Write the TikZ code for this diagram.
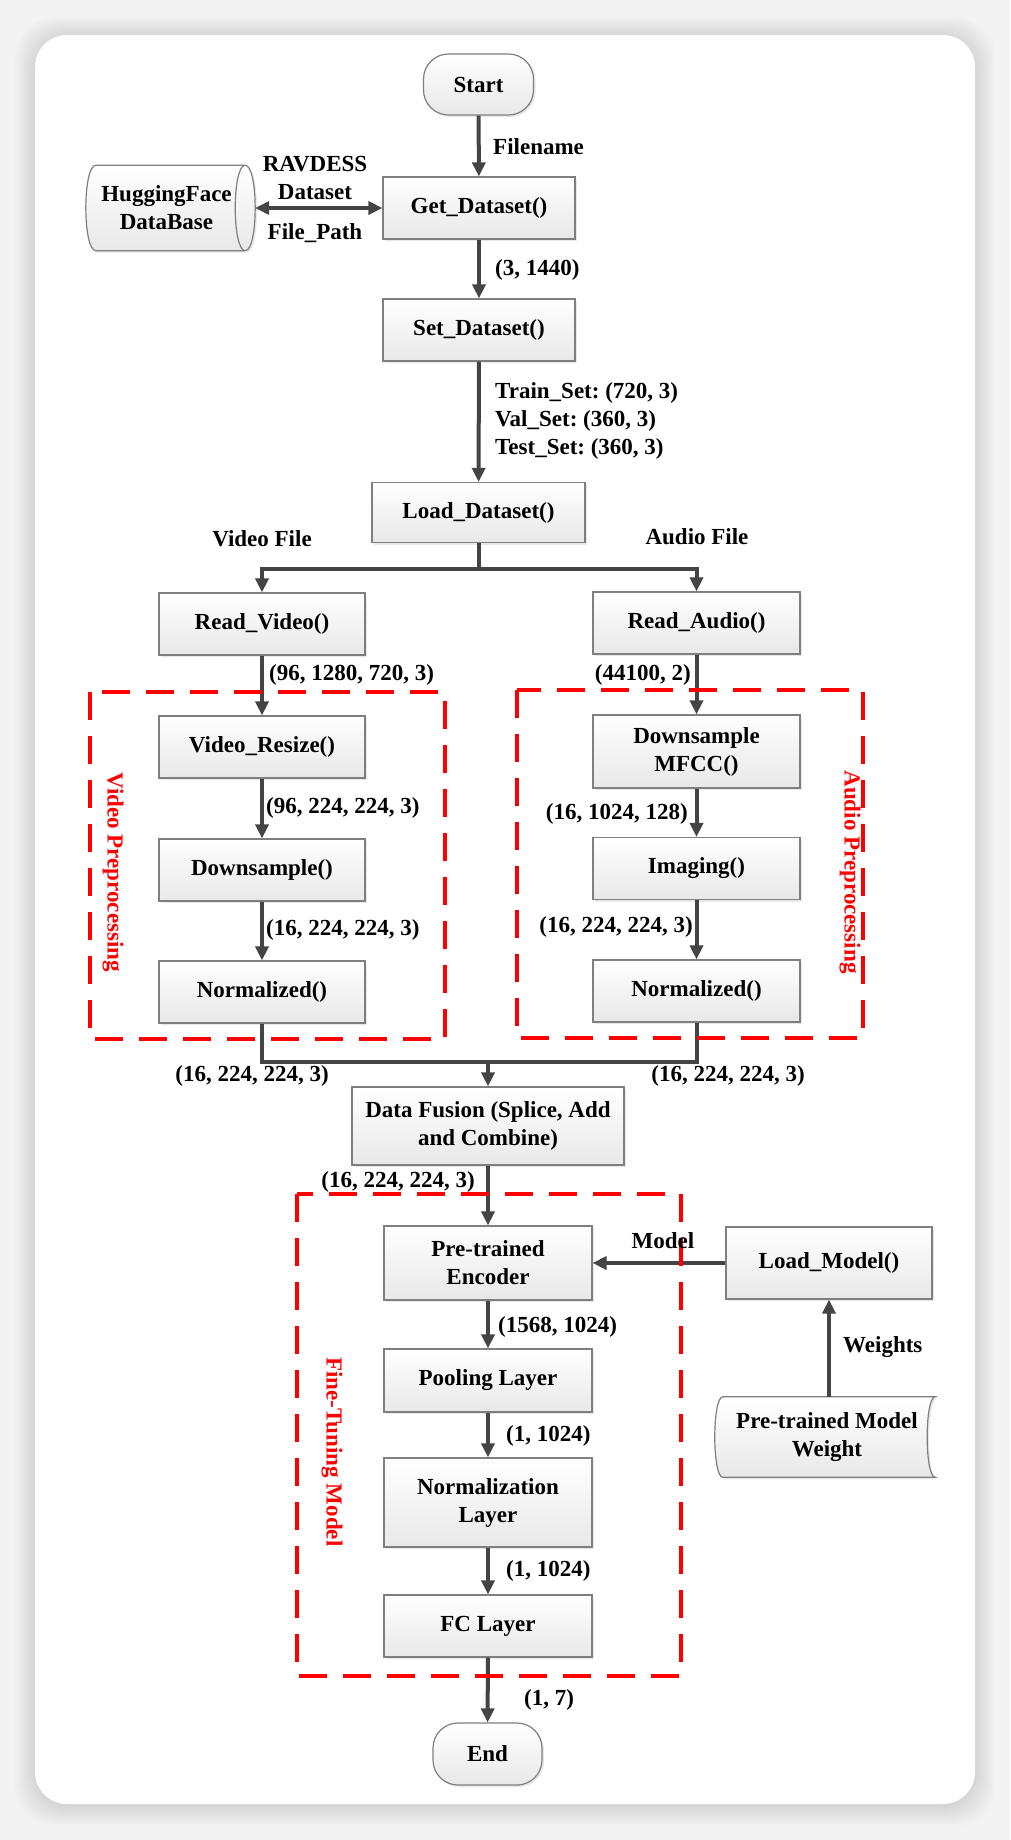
\documentclass[tikz,border=0pt]{standalone}
\usepackage{fontspec}
\setmainfont{Liberation Serif}
\usetikzlibrary{arrows.meta,shadows,calc}
\definecolor{arr}{HTML}{444444}
\definecolor{bord}{HTML}{7F7F7F}
\definecolor{bgc}{HTML}{F3F3F3}
\frenchspacing
\begin{document}
\begin{tikzpicture}[x=1pt,y=-1pt,
  every node/.style={font=\fontsize{23}{28}\selectfont\bfseries},
  shp/.style={draw=bord, line width=1.2pt, top color=white, bottom color=black!9,
    drop shadow={shadow xshift=2pt, shadow yshift=-2pt, opacity=0.18}},
  box/.style={shp, align=center, inner sep=2pt, minimum width=206pt, minimum height=62pt},
  term/.style={box, rounded corners=25pt, minimum width=110pt, minimum height=61pt},
  conn/.style={draw=arr, line width=4pt, -{Triangle[length=14pt,width=13pt]}},
  link/.style={draw=arr, line width=4pt},
  lbl/.style={inner sep=0pt, text=black, align=left},
  dashbox/.style={draw=red, line width=4pt, dash pattern=on 28pt off 16pt},
  redlbl/.style={text=red, inner sep=0pt, rotate=-90},
]
\useasboundingbox (0,0) rectangle (1010,1840);
% background and card
\fill[bgc] (0,0) rectangle (1010,1840);
\foreach \i in {1,...,10}
  \fill[black, opacity=0.012, rounded corners=40pt] (35-2*\i, 37-2*\i) rectangle (975+2*\i, 1806+2*\i);
\fill[white, rounded corners=32pt] (35,35) rectangle (975,1804);

% nodes
\node[term] (start) at (478.5,84.5) {Start};
\node[box, minimum width=192pt] (get) at (479,208) {Get\_Dataset()};
\node[inner sep=0pt, minimum width=149pt, minimum height=85pt] (hf) at (170.5,208) {};
\path[shp] (hf.north west) -- (hf.north east)
  .. controls ($(hf.north east)+(13.3,0)$) and ($(hf.south east)+(13.3,0)$) .. (hf.south east)
  -- (hf.south west)
  .. controls ($(hf.south west)+(-13.3,0)$) and ($(hf.north west)+(-13.3,0)$) .. cycle;
\draw[draw=bord, line width=1.2pt] (hf.north east)
  .. controls ($(hf.north east)+(-13.3,0)$) and ($(hf.south east)+(-13.3,0)$) .. (hf.south east);
\node[align=center, inner sep=0pt] (hftxt) at ([xshift=-4pt]hf.center) {HuggingFace\\DataBase};
\node[box, minimum width=192pt] (set) at (479,330) {Set\_Dataset()};
\node[box, minimum width=213pt, minimum height=60pt] (load) at (478.5,512.5) {Load\_Dataset()};
\node[box] (rv) at (262,624) {Read\_Video()};
\node[box, minimum width=207pt] (ra) at (696.5,623) {Read\_Audio()};
\node[box] (vr) at (262,747) {Video\_Resize()};
\node[box] (vd) at (262,870) {Downsample()};
\node[box] (vn) at (262,992) {Normalized()};
\node[box, minimum width=207pt, minimum height=73pt] (am) at (696.5,751.5) {Downsample\\MFCC()};
\node[box, minimum width=207pt] (ai) at (696.5,868.5) {Imaging()};
\node[box, minimum width=207pt] (an) at (696.5,991) {Normalized()};
\node[box, minimum width=272pt, minimum height=78pt] (fusion) at (488,1126) {Data Fusion (Splice, Add\\and Combine)};
\node[box, minimum width=208pt, minimum height=74pt] (enc) at (488,1263) {Pre-trained\\Encoder};
\node[box, minimum width=208pt, minimum height=63pt] (pool) at (488,1380.5) {Pooling Layer};
\node[box, minimum width=208pt, minimum height=89pt] (norm) at (488,1502.5) {Normalization\\Layer};
\node[box, minimum width=208pt, minimum height=62pt] (fc) at (488,1626) {FC Layer};
\node[term, minimum width=109pt, minimum height=62pt] (end) at (487.5,1754) {End};
\node[box, minimum width=206pt, minimum height=72pt] (lm) at (829,1263) {Load\_Model()};
\node[inner sep=0pt, minimum width=212pt, minimum height=80pt] (pmw) at (829,1437) {};
\path[shp] (pmw.north west) -- (pmw.north east)
  .. controls ($(pmw.north east)+(-10.7,0)$) and ($(pmw.south east)+(-10.7,0)$) .. (pmw.south east)
  -- (pmw.south west)
  .. controls ($(pmw.south west)+(-10.7,0)$) and ($(pmw.north west)+(-10.7,0)$) .. cycle;
\node[align=center, inner sep=0pt] (pmwtxt) at ([xshift=-2pt]pmw.center) {Pre-trained Model\\Weight};

% connectors
\draw[conn] (start) -- (get);
\draw[link, {Triangle[length=14pt,width=13pt]}-{Triangle[length=14pt,width=13pt]}] ([xshift=10pt]hf.east) -- (get.west);
\draw[conn] (get) -- (set);
\draw[conn] (set) -- (load);
\coordinate (jn) at (478.5,569);
\draw[link] (load.south) -- (jn);
\draw[conn] (jn) -| (rv.north);
\draw[conn] (jn) -| (ra.north);
\draw[conn] (rv) -- (vr);
\draw[conn] (vr) -- (vd);
\draw[conn] (vd) -- (vn);
\draw[conn] (ra) -- (am);
\draw[conn] (am) -- (ai);
\draw[conn] (ai) -- (an);
\coordinate (mg) at (488,1062);
\draw[link] (vn.south) |- (mg);
\draw[link] (an.south) |- (mg);
\draw[conn] (mg) -- (fusion.north);
\draw[conn] (fusion) -- (enc);
\draw[conn] (enc) -- (pool);
\draw[conn] (pool) -- (norm);
\draw[conn] (norm) -- (fc);
\draw[conn] (fc) -- (end);
\draw[conn] (lm.west) -- (enc.east);
\draw[conn] (pmw.north) -- (lm.south);

% dashed groups
\draw[dashbox] (90,692) rectangle (445,1039);
\draw[dashbox] (517,690) rectangle (863,1038);
\draw[dashbox] (297,1194) rectangle (681,1676);
\node[redlbl] (vp) at (113,872) {Video Preprocessing};
\node[redlbl] (ap) at (850,872) {Audio Preprocessing};
\node[redlbl] (ftm) at (332,1452) {Fine-Tuning Model};

% labels
\node[lbl, anchor=west] (l1) at (493,147) {Filename};
\node[lbl, align=center] (l2) at (315,178) {RAVDESS\\Dataset};
\node[lbl] (l3) at (315,233) {File\_Path};
\node[lbl, anchor=west] (l4) at (495,270) {(3, 1440)};
\node[lbl, anchor=west] (l5) at (495,421) {Train\_Set: (720, 3)\\Val\_Set: (360, 3)\\Test\_Set: (360, 3)};
\node[lbl] (l6) at (262,539) {Video File};
\node[lbl] (l7) at (697,537) {Audio File};
\node[lbl, anchor=west] (l8) at (269,675) {(96, 1280, 720, 3)};
\node[lbl, anchor=west] (l9) at (266,808) {(96, 224, 224, 3)};
\node[lbl, anchor=west] (l10) at (266,930) {(16, 224, 224, 3)};
\node[lbl, anchor=east] (l11) at (691,675) {(44100, 2)};
\node[lbl, anchor=east] (l12) at (688,814) {(16, 1024, 128)};
\node[lbl, anchor=east] (l13) at (693,927) {(16, 224, 224, 3)};
\node[lbl] (l14) at (252,1076) {(16, 224, 224, 3)};
\node[lbl] (l15) at (728,1076) {(16, 224, 224, 3)};
\node[lbl] (l16) at (398,1182) {(16, 224, 224, 3)};
\node[lbl, anchor=west] (l17) at (498,1327) {(1568, 1024)};
\node[lbl, anchor=west] (l18) at (506,1436) {(1, 1024)};
\node[lbl, anchor=west] (l19) at (506,1571) {(1, 1024)};
\node[lbl, anchor=west] (l20) at (524,1700) {(1, 7)};
\node[lbl] (l21) at (663,1241) {Model};
\node[lbl, anchor=west] (l22) at (843,1347) {Weights};
\end{tikzpicture}
\end{document}
